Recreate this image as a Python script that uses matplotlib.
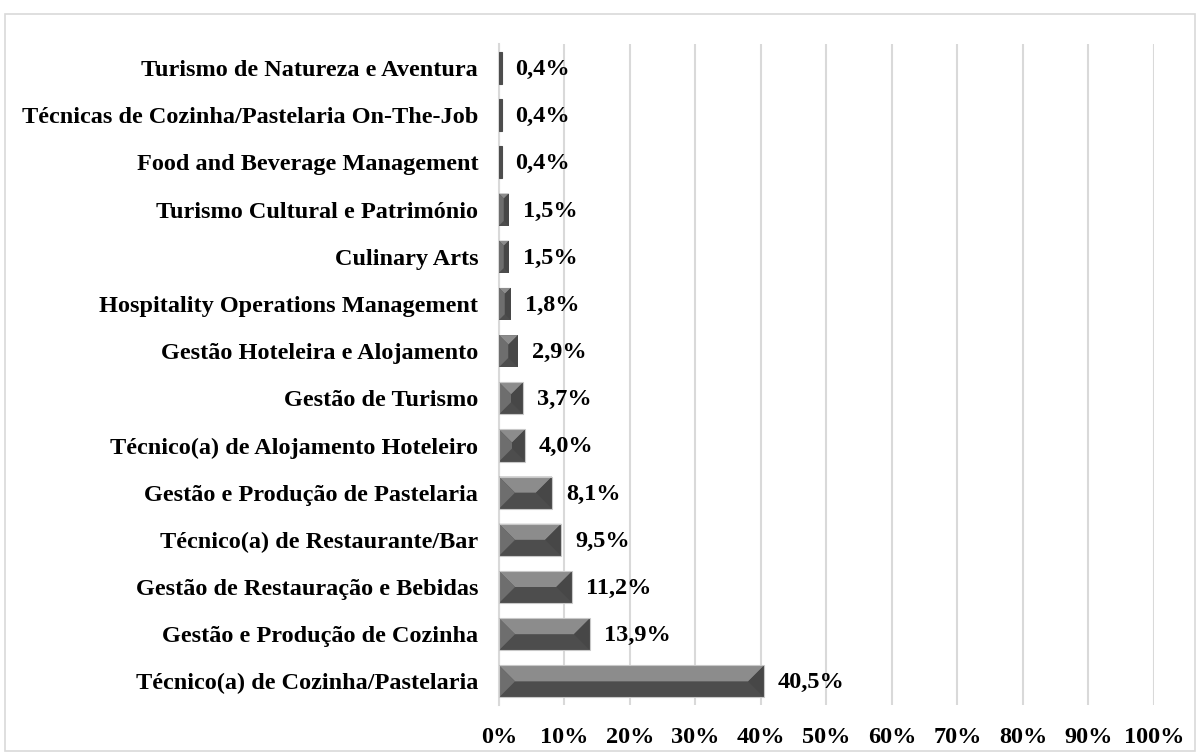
import numpy as np
import matplotlib
matplotlib.use('Agg')
import matplotlib.pyplot as plt
from matplotlib.patches import Polygon, Rectangle

# categories top to bottom, shares in percent
cursos = ["Turismo de Natureza e Aventura",
          "Técnicas de Cozinha/Pastelaria On-The-Job",
          "Food and Beverage Management",
          "Turismo Cultural e Património",
          "Culinary Arts",
          "Hospitality Operations Management",
          "Gestão Hoteleira e Alojamento",
          "Gestão de Turismo",
          "Técnico(a) de Alojamento Hoteleiro",
          "Gestão e Produção de Pastelaria",
          "Técnico(a) de Restaurante/Bar",
          "Gestão de Restauração e Bebidas",
          "Gestão e Produção de Cozinha",
          "Técnico(a) de Cozinha/Pastelaria"]
pct = [0.4, 0.4, 0.4, 1.5, 1.5, 1.8, 2.9, 3.7, 4.0, 8.1, 9.5, 11.2, 13.9, 40.5]
xticks = np.arange(0, 101, 10)

plt.rcParams['font.family'] = ['Liberation Serif', 'DejaVu Serif']
plt.rcParams['font.weight'] = 'bold'
fs = 17.5

fig = plt.figure(figsize=(12, 7.54), dpi=100)
# light frame around the whole chart
fig.patches.append(Rectangle((0.004, 0.004), 0.992, 0.978, transform=fig.transFigure,
                             fill=False, edgecolor='#d9d9d9', linewidth=1.2))
axpos = [0.4158, 0.065, 0.5458, 0.876]
ax = fig.add_axes(axpos)
ax.set_xlim(0, 100)
ax.set_ylim(len(cursos) - 0.5, -0.5)

h = 0.68
# pixels per data unit, for a 45 degree bevel
px_x = axpos[2] * 1200 / 100
px_y = axpos[3] * 754 / len(cursos)
dark = '#4d4d4d'
for i, v in enumerate(pct):
    top, bot = i - h / 2, i + h / 2
    if v < 1:
        # too thin for a bevel, just a dark sliver
        ax.add_patch(Rectangle((0, top), v, h, facecolor=dark,
                               edgecolor=dark, linewidth=0.8, zorder=3))
    else:
        d = min(16, v * px_x / 2, h * px_y / 2)
        dx, dy = d / px_x, d / px_y
        # base in the dark colour, then the lit faces on top
        ax.add_patch(Rectangle((0, top), v, h, facecolor=dark, edgecolor='none', zorder=3))
        ax.add_patch(Polygon([(0, top), (v, top), (v - dx, top + dy), (dx, top + dy)],
                             facecolor='#8c8c8c', edgecolor='none', zorder=3))
        ax.add_patch(Polygon([(0, top), (dx, top + dy), (dx, bot - dy), (0, bot)],
                             facecolor='#6e6e6e', edgecolor='none', zorder=3))
        ax.add_patch(Polygon([(v, top), (v - dx, top + dy), (v - dx, bot - dy), (v, bot)],
                             facecolor='#474747', edgecolor='none', zorder=3))
        if v > 3:
            ax.add_patch(Rectangle((0, top), v, h, fill=False, edgecolor='#c8c8c8',
                                   linewidth=0.8, zorder=4))
    ax.annotate(f"{v:.1f}%".replace('.', ','), (v, i), xytext=(10, -1),
                textcoords='offset points', va='center', ha='left',
                fontsize=fs, fontweight='bold', zorder=5)

ax.set_yticks(range(len(cursos)))
ax.set_yticklabels(cursos, fontsize=fs, fontweight='bold')
ax.set_xticks(xticks)
ax.set_xticklabels([f"{t}%" for t in xticks], fontsize=fs, fontweight='bold')
ax.tick_params(axis='y', length=0, pad=15)
ax.tick_params(axis='x', length=0, pad=16)
ax.grid(axis='x', color='#d9d9d9', linewidth=1.5, zorder=0)
ax.set_axisbelow(True)
for s in ['top', 'right', 'bottom']:
    ax.spines[s].set_visible(False)
ax.spines['left'].set_color('#d9d9d9')
ax.spines['left'].set_linewidth(1.5)

fig.savefig('out.png', dpi=100)
